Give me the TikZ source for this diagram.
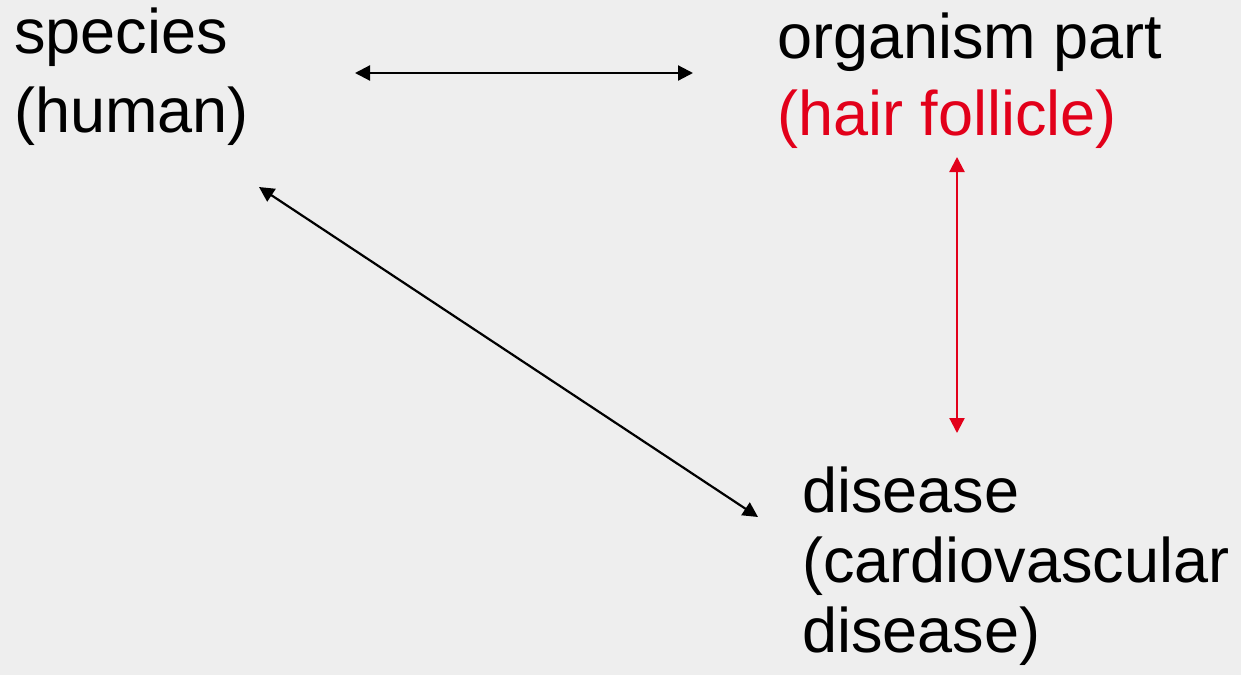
\documentclass[tikz,border=0pt]{standalone}
\usepackage{fontspec}
\setmainfont{Liberation Sans}
\usetikzlibrary{arrows.meta}
\definecolor{bgray}{HTML}{EEEEEE}
\definecolor{hired}{HTML}{E2001A}
\begin{document}
\begin{tikzpicture}[x=1pt,y=-1pt,
  label/.style={anchor=base west,inner sep=0pt,align=left},
  link/.style={line width=2.2pt,{Triangle[length=15pt,width=15pt]}-{Triangle[length=15pt,width=15pt]}}]
  % canvas
  \fill[bgray] (0,0) rectangle (1241,675);
  \useasboundingbox (0,0) rectangle (1241,675);
  % labels (anchored at the baseline of their last line)
  \node[label,font=\fontsize{63}{79}\selectfont] (species) at (14,132) {species\\(human)};
  \node[label,font=\fontsize{63}{77}\selectfont] (organ) at (777,135) {organism part\\\textcolor{hired}{(hair follicle)}};
  \node[label,font=\fontsize{63}{70}\selectfont] (disease) at (802,652) {disease\\(cardiovascular\\disease)};
  % connector ends
  \coordinate (sR) at (355,73);
  \coordinate (oL) at (693,73);
  \coordinate (oB) at (957,157);
  \coordinate (dT) at (957,433);
  \coordinate (sB) at (259,187);
  \coordinate (dL) at (758,517);
  % connectors
  \draw[link] (sR) -- (oL);
  \draw[link,hired] (oB) -- (dT);
  \draw[link] (sB) -- (dL);
\end{tikzpicture}
\end{document}
